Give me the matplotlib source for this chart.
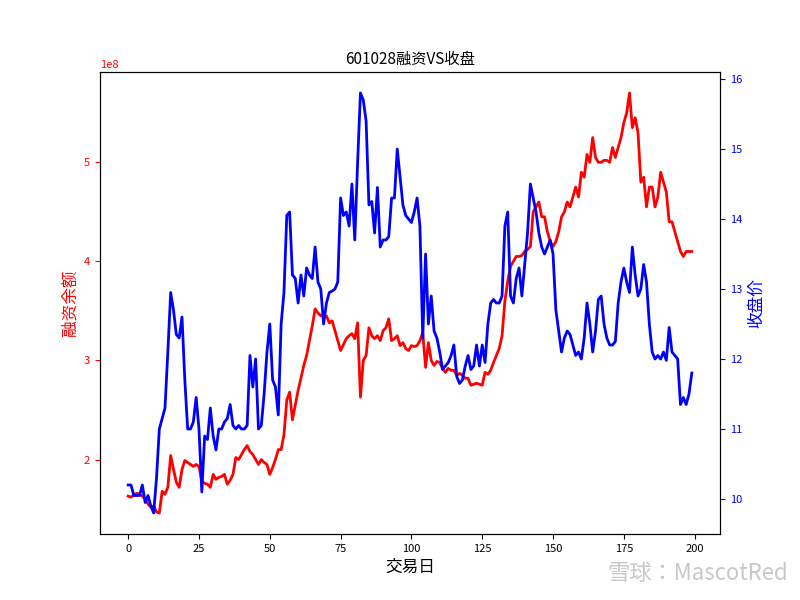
import matplotlib
matplotlib.use("Agg")
import matplotlib.pyplot as plt
from matplotlib import font_manager

names = sorted({f.name for f in font_manager.fontManager.ttflist})
cjk = [n for n in names if "CJK" in n]
pref = [n for n in ["Noto Sans CJK SC", "Noto Sans CJK JP"] if n in names] + cjk
plt.rcParams["font.family"] = "sans-serif"
plt.rcParams["font.sans-serif"] = pref + ["DejaVu Sans"]
plt.rcParams["axes.unicode_minus"] = False

margin = [1.63,1.62,1.64,1.66,1.65,1.63,1.60,1.55,1.52,1.53,1.47,1.46,1.68,1.65,1.72,2.04,1.90,1.77,1.72,1.90,
1.99,1.97,1.95,1.93,1.95,1.93,1.78,1.76,1.75,1.72,1.85,1.80,1.82,1.83,1.85,1.75,1.79,1.85,2.02,2.00,
2.05,2.10,2.14,2.08,2.05,2.00,1.95,2.00,1.97,1.95,1.85,1.92,2.00,2.10,2.10,2.25,2.60,2.68,2.40,2.55,
2.70,2.82,2.95,3.05,3.20,3.35,3.52,3.48,3.45,3.46,3.45,3.38,3.40,3.30,3.20,3.10,3.16,3.22,3.25,3.27,
3.22,3.38,2.63,3.00,3.05,3.33,3.25,3.22,3.25,3.20,3.30,3.33,3.42,3.20,3.22,3.25,3.15,3.18,3.12,3.10,
3.15,3.14,3.15,3.20,3.28,2.93,3.18,3.00,2.95,2.99,2.98,2.92,2.88,2.92,2.90,2.90,2.85,2.87,2.85,2.82,
2.82,2.75,2.76,2.77,2.76,2.75,2.88,2.86,2.90,2.98,3.05,3.12,3.25,3.60,3.80,3.95,4.00,4.05,4.05,4.06,
4.10,4.12,4.15,4.50,4.55,4.60,4.45,4.45,4.30,4.20,4.15,4.20,4.30,4.45,4.50,4.60,4.55,4.65,4.75,4.65,
4.90,4.85,5.08,5.00,5.25,5.05,5.00,5.00,5.02,5.02,5.00,5.15,5.05,5.15,5.25,5.40,5.50,5.70,5.35,5.45,
5.30,4.80,4.85,4.55,4.75,4.75,4.55,4.65,4.90,4.80,4.70,4.40,4.40,4.30,4.20,4.10,4.05,4.10,4.10,4.10]

close = [10.2,10.2,10.05,10.05,10.05,10.2,9.95,10.05,9.9,9.8,10.3,11.0,11.15,11.3,12.1,12.95,12.7,12.35,12.3,12.6,
11.7,11.0,11.0,11.1,11.45,11.0,10.1,10.9,10.85,11.3,10.9,10.7,11.0,11.0,11.1,11.15,11.35,11.05,11.0,11.05,
11.0,11.0,11.05,12.05,11.6,12.0,11.0,11.05,11.5,12.1,12.5,11.7,11.6,11.2,12.5,12.95,14.05,14.1,13.2,13.15,
12.8,13.2,12.9,13.3,13.2,13.15,13.6,13.1,13.0,12.5,12.8,12.95,12.97,13.0,13.1,14.3,14.05,14.1,13.9,14.5,
13.7,14.8,15.8,15.7,15.4,14.2,14.25,13.8,14.45,13.6,13.7,13.7,13.75,14.3,14.3,15.0,14.6,14.2,14.05,14.0,
13.95,14.1,14.3,13.9,12.3,13.5,12.5,12.9,12.4,12.3,12.1,11.85,11.9,11.95,12.05,12.2,11.75,11.65,11.7,11.9,
12.05,11.85,11.9,12.2,11.9,12.2,11.95,12.5,12.8,12.85,12.8,12.8,12.9,13.9,14.1,12.9,12.8,13.15,13.3,12.9,
13.35,13.8,14.5,14.3,14.1,13.8,13.6,13.5,13.6,13.7,13.5,12.7,12.4,12.1,12.3,12.4,12.35,12.2,12.05,12.1,
12.0,12.3,12.8,12.5,12.1,12.4,12.85,12.9,12.5,12.3,12.2,12.2,12.25,12.8,13.1,13.3,13.1,12.95,13.6,13.2,
12.9,13.0,13.35,13.1,12.5,12.1,12.0,12.05,12.0,12.1,11.98,12.45,12.1,12.05,12.0,11.35,11.45,11.35,11.5,11.8]

days = list(range(len(margin)))
margin_yuan = [v * 1e8 for v in margin]

fig, ax = plt.subplots(figsize=(8, 6), dpi=100)
ax.plot(days, margin_yuan, color="red", lw=2)
ax.set_xlabel("交易日", fontsize=12)
ax.set_ylabel("融资余额", color="red", fontsize=12)
ax.tick_params(axis="y", colors="red", labelsize=8)
ax.tick_params(axis="x", labelsize=8)
ax.yaxis.get_offset_text().set_color("red")
ax.yaxis.get_offset_text().set_fontsize(8)
ax.set_title("601028融资VS收盘", fontsize=11)
ax2 = ax.twinx()
ax2.plot(days, close, color="blue", lw=2)
ax2.set_ylabel("收盘价", color="blue", fontsize=12)
ax2.tick_params(axis="y", colors="blue", labelsize=8)
fig.text(0.985, 0.025, "雪球：MascotRed", ha="right", va="bottom", fontsize=16, color="#c8c8c8")
fig.savefig("out.png")
